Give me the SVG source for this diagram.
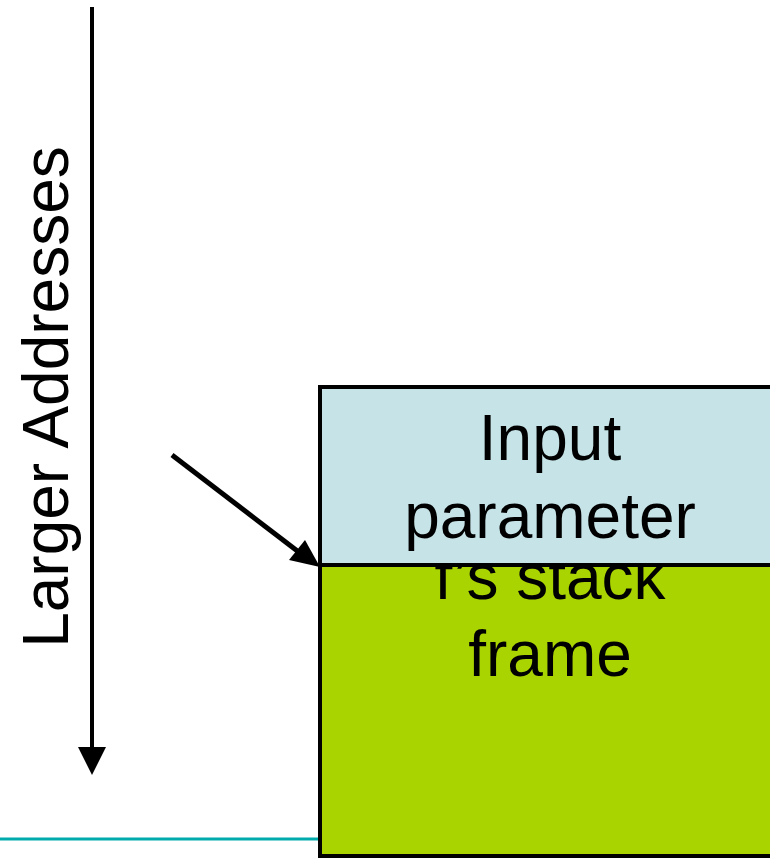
<svg xmlns="http://www.w3.org/2000/svg" width="770" height="858" viewBox="0 0 770 858">
<style>
.lbl{font-family:"Liberation Sans",Arial,sans-serif;font-size:64px;fill:#000;text-anchor:middle}
.box{stroke:#000;stroke-width:4}
.conn{stroke:#000;stroke-width:5;fill:none}
.head{fill:#000}
</style>
<rect width="770" height="858" fill="#fff"/>
<line x1="0" y1="839" x2="320" y2="839" stroke="#00ABAB" stroke-width="3"/>
<g id="frame">
<rect class="box" x="320" y="565" width="462" height="291" fill="#AAD400"/>
<text class="lbl" x="550" y="599">f’s stack</text>
<text class="lbl" x="550" y="676">frame</text>
</g>
<g id="input">
<rect class="box" x="320" y="387" width="462" height="178" fill="#C6E4E8"/>
<text class="lbl" x="550" y="460">Input</text>
<text class="lbl" x="550" y="538">parameter</text>
</g>
<g id="addresses">
<text class="lbl" transform="translate(68,397) rotate(-90)">Larger Addresses</text>
</g>
<g id="connectors">
<line class="conn" x1="92" y1="7" x2="92" y2="750" style="stroke-width:4"/>
<polygon class="head" points="78,747 106,747 92,775"/>
<line class="conn" x1="172" y1="455" x2="300" y2="553"/>
<polygon class="head" points="289,560 305,540 320,567"/>
</g>
</svg>
